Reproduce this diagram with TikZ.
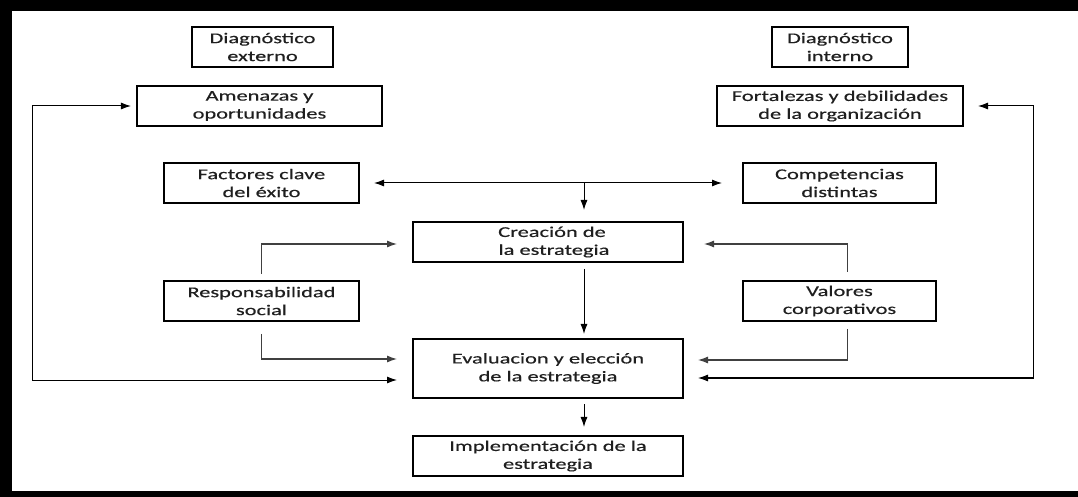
\documentclass[tikz,border=0pt]{standalone}
\usepackage{fontspec}
\setmainfont{Carlito}[FakeStretch=1.5,FakeBold=0.4]
\usetikzlibrary{arrows.meta,calc}
\tikzset{
  box/.style={draw=black, line width=2bp, rectangle, inner sep=0pt, align=center,
    font=\fontsize{15}{18}\selectfont, text=black!88, minimum height=40bp},
  arr/.style={draw=black, line width=1bp, -{Latex[length=10bp,width=7bp]}},
  barr/.style={draw=black, line width=1bp, {Latex[length=10bp,width=7bp]}-{Latex[length=10bp,width=7bp]}},
  garr/.style={draw=black!75, line width=1.2bp, -{Latex[length=10bp,width=7bp]}},
}
\begin{document}%
\begin{tikzpicture}[x=1bp,y=-1bp]%
\useasboundingbox (0,0) rectangle (1078,497);%
\fill[white] (0,0) rectangle (1078,497);%
% frame
\fill[black] (0,0) rectangle (1078,11);%
\fill[black] (0,0) rectangle (12,497);%
\fill[black] (0,491) rectangle (1078,497);%
% boxes
\node[box, minimum width=141bp] (dext) at (262.5,47) {Diagnóstico\\externo};%
\node[box, minimum width=245bp] (amen) at (259.5,106) {Amenazas y\\oportunidades};%
\node[box, minimum width=195bp] (fact) at (261.5,183) {Factores clave\\del éxito};%
\node[box, minimum width=270bp] (crea) at (548,242) {\hspace*{8pt}Creación de\\\hspace*{12pt}la estrategia};%
\node[box, minimum width=136bp] (dint) at (840,47) {Diagnóstico\\interno};%
\node[box, minimum width=246bp] (fort) at (840,106) {Fortalezas y debilidades\\de la organización};%
\node[box, minimum width=193bp] (comp) at (839.5,183) {Competencias\\distintas};%
\node[box, minimum width=195bp] (resp) at (261.5,301) {Responsabilidad\\social};%
\node[box, minimum width=193bp] (valo) at (839.5,301) {Valores\\corporativos};%
\node[box, minimum width=270bp, minimum height=59bp] (eval) at (548,368.5) {Evaluacion y elección\\de la estrategia};%
\node[box, minimum width=270bp] (impl) at (548,456) {Implementación de la\\estrategia};%
% helper coordinates
\coordinate (ax) at (584,0);%
\coordinate (lx) at (32,0);%
\coordinate (rx) at (1033,0);%
% connectors
\draw[barr, shorten <=5bp, shorten >=15bp] (amen.west) -- (lx |- amen.west) |- ($(eval.west)+(0,11.5)$);%
\draw[barr, shorten <=14bp, shorten >=14bp] (fort.east) -- (rx |- fort.east) |- ($(eval.east)+(0,9.5)$);%
\draw[barr, shorten <=14bp, shorten >=20bp] (fact.east) -- (comp.west);%
\draw[arr, shorten >=11bp] (ax |- fact.east) -- (ax |- crea.north);%
\draw[arr, shorten <=6bp, shorten >=4bp] (ax |- crea.south) -- (ax |- eval.north);%
\draw[arr, shorten <=5bp, shorten >=8bp] (ax |- eval.south) -- (ax |- impl.north);%
\draw[garr, shorten <=6bp, shorten >=15bp] (resp.north) |- ($(crea.west)+(0,2)$);%
\draw[garr, shorten <=12bp, shorten >=15bp] (resp.south) |- ($(eval.west)+(0,-9.5)$);%
\draw[garr, shorten <=8bp, shorten >=20bp] ($(valo.north)+(8,0)$) |- ($(crea.east)+(0,2)$);%
\draw[garr, shorten <=7bp, shorten >=14bp] ($(valo.south)+(8,0)$) |- ($(eval.east)+(0,-8.5)$);%
\end{tikzpicture}%
\end{document}
